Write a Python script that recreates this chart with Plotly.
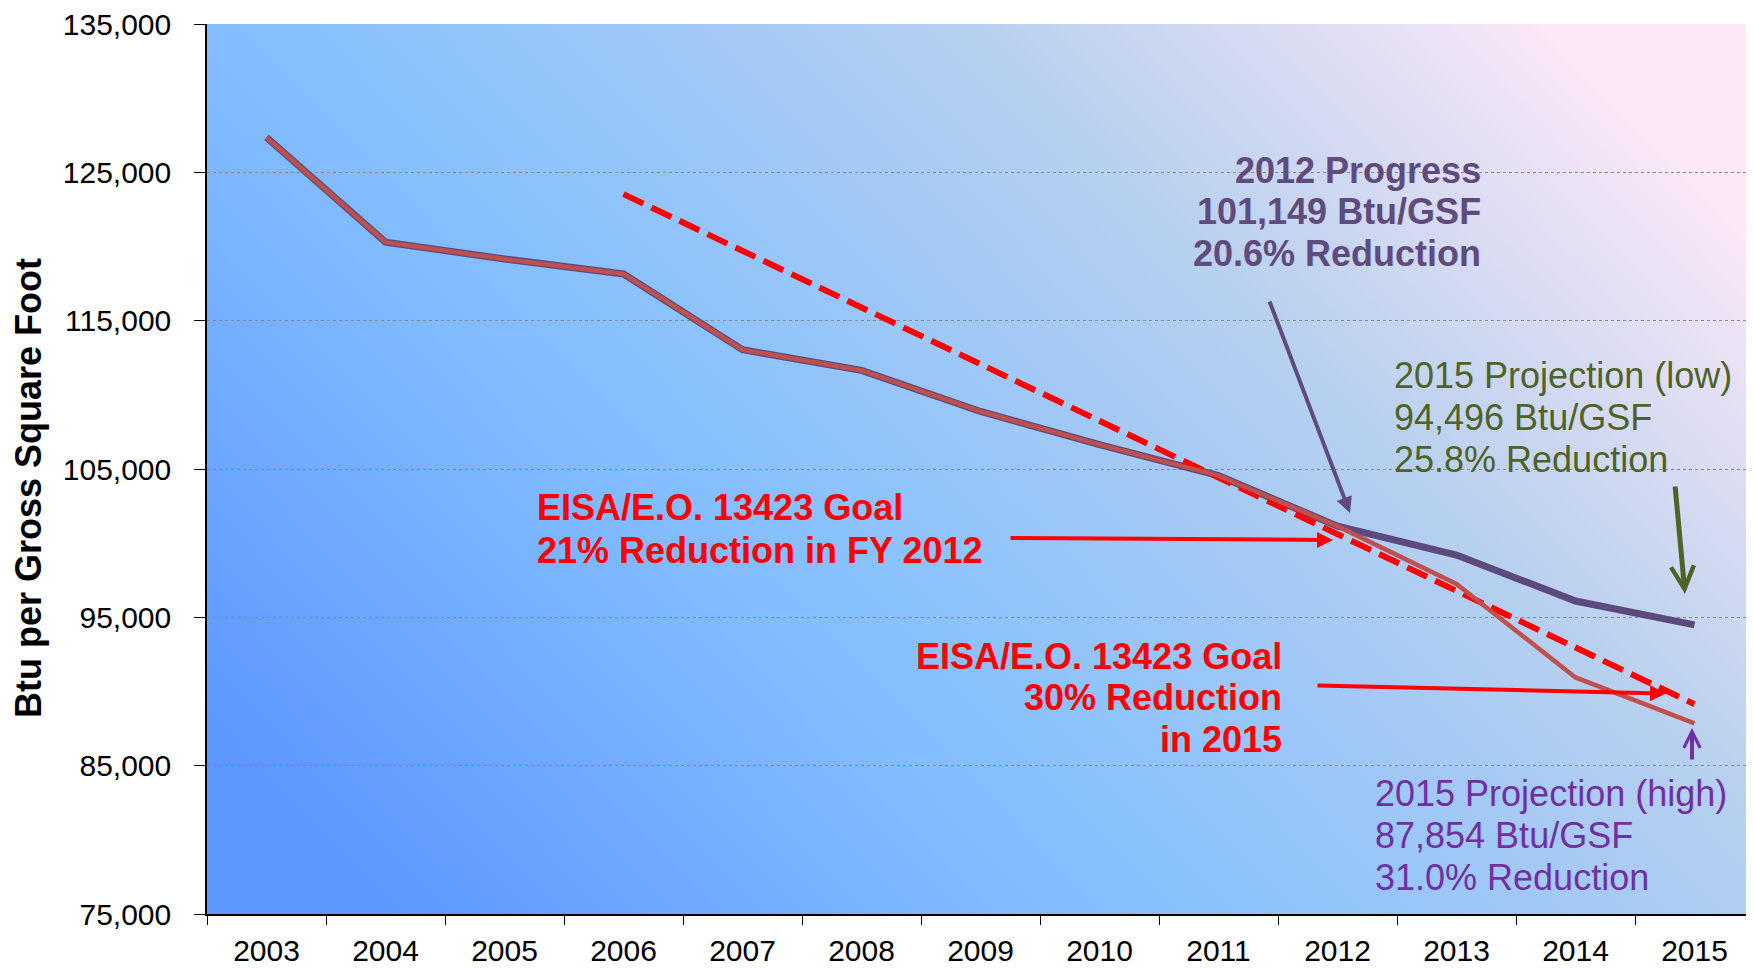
import base64
import plotly.graph_objects as go

# ---------------- data ----------------
years = ["2003", "2004", "2005", "2006", "2007", "2008", "2009",
         "2010", "2011", "2012", "2013", "2014", "2015"]
low_projection = [127350, 120290, 119160, 118150, 113040, 111650, 108880,
                  106640, 104550, 101149, 99200, 96100, 94496]
high_projection = [127350, 120290, 119160, 118150, 113040, 111650, 108880,
                   106640, 104550, 101149, 97250, 90950, 87854]
goal_years = ["2006", "2007", "2008", "2009", "2010", "2011", "2012",
              "2013", "2014", "2015"]
goal_values = [123530, 119710, 115890, 112070, 108250, 104430, 100610,
               96790, 92970, 89145]
y_ticks = [75000, 85000, 95000, 105000, 115000, 125000, 135000]

progress_lines = ["2012 Progress", "101,149 Btu/GSF", "20.6% Reduction"]
low_lines = ["2015 Projection (low)", "94,496 Btu/GSF", "25.8% Reduction"]
high_lines = ["2015 Projection (high)", "87,854 Btu/GSF", "31.0% Reduction"]
goal12_lines = ["EISA/E.O. 13423 Goal", "21% Reduction in FY 2012"]
goal15_lines = ["EISA/E.O. 13423 Goal", "30% Reduction", "in 2015"]

# ---------------- layout geometry (page pixels) ----------------
OFF = 8                      # default body margin of the html page
L, R, T, B = 207, 1754, 24, 914
W = R - OFF                  # figure width
H = 960                      # figure height
FONT = "Liberation Sans, Arial, sans-serif"


def px(x):
    return (x - L) / (R - L)


def py(y):
    return (B - y) / (B - T)


# background gradient (style only)
svg = (
    '<svg xmlns="http://www.w3.org/2000/svg" width="1547" height="890" '
    'viewBox="0 0 1547 890" preserveAspectRatio="none">'
    '<defs><linearGradient id="g" x1="0" y1="0.78" x2="1" y2="0.22">'
    '<stop offset="0" stop-color="#5c98ff"/>'
    '<stop offset="0.30" stop-color="#80bbff"/>'
    '<stop offset="0.42" stop-color="#8cc3fc"/>'
    '<stop offset="0.60" stop-color="#a6caf4"/>'
    '<stop offset="0.72" stop-color="#b9d1ef"/>'
    '<stop offset="0.86" stop-color="#dadcf2"/>'
    '<stop offset="1" stop-color="#fde8f8"/>'
    '</linearGradient></defs>'
    '<rect x="0" y="0" width="1547" height="890" fill="url(#g)"/></svg>'
)
bg_src = "data:image/svg+xml;base64," + base64.b64encode(svg.encode()).decode()

fig = go.Figure()

fig.add_trace(go.Scatter(
    x=years, y=low_projection, mode="lines",
    line=dict(color="#5c4a7e", width=7), showlegend=False, hoverinfo="skip"))
fig.add_trace(go.Scatter(
    x=goal_years, y=goal_values, mode="lines",
    line=dict(color="#ff0000", width=6, dash="22px,9px"),
    showlegend=False, hoverinfo="skip"))
fig.add_trace(go.Scatter(
    x=years, y=high_projection, mode="lines",
    line=dict(color="#c0504d", width=4.5), showlegend=False, hoverinfo="skip"))

annotations = []


def text_block(lines, x, ys, anchor, color, bold):
    for line, yy in zip(lines, ys):
        t = "<b>%s</b>" % line if bold else line
        annotations.append(dict(
            text=t, xref="paper", yref="paper", x=px(x), y=py(yy),
            xanchor=anchor, yanchor="middle", showarrow=False,
            font=dict(family=FONT, size=36, color=color)))


text_block(progress_lines, 1483, [170, 211.5, 254], "right", "#5f4b7d", True)
text_block(low_lines, 1392, [375.5, 417.5, 459.5], "left", "#4f6228", False)
text_block(high_lines, 1373, [793, 835, 877], "left", "#7030a0", False)
text_block(goal12_lines, 535, [507.5, 550.5], "left", "#ff0000", True)
text_block(goal15_lines, 1284, [656, 697.5, 739], "right", "#ff0000", True)


def arrow(tail, head, color, width, style, size):
    annotations.append(dict(
        text="", xref="paper", yref="paper", x=px(head[0]), y=py(head[1]),
        ax=tail[0] - head[0], ay=tail[1] - head[1], axref="pixel", ayref="pixel",
        showarrow=True, arrowhead=style, arrowsize=size, arrowwidth=width,
        arrowcolor=color, standoff=0, startstandoff=0))


arrow((1269, 300), (1350, 513), "#5f4b7d", 4, 2, 0.8)
arrow((1675, 485), (1685, 594), "#4f6228", 5, 5, 0.9)
arrow((1692, 761), (1692, 728), "#7030a0", 4, 5, 0.8)
arrow((1009, 538), (1333, 540), "#ff0000", 4, 2, 0.8)
arrow((1316, 685.5), (1666, 693.5), "#ff0000", 4, 2, 0.8)

# y axis title
annotations.append(dict(
    text="<b>Btu per Gross Square Foot</b>", xref="paper", yref="paper",
    x=px(28), y=py(488), xanchor="center", yanchor="middle", textangle=-90,
    showarrow=False, font=dict(family=FONT, size=36, color="black")))

fig.update_layout(
    width=W, height=H,
    margin=dict(l=L - OFF, r=0, t=T - OFF, b=H - (B - OFF), autoexpand=False),
    paper_bgcolor="white",
    plot_bgcolor="rgba(0,0,0,0)",
    font=dict(family=FONT, size=30, color="black"),
    annotations=annotations,
    images=[dict(source=bg_src, xref="paper", yref="paper", x=0, y=1,
                 sizex=1, sizey=1, xanchor="left", yanchor="top",
                 sizing="stretch", layer="below")],
    xaxis=dict(
        type="category", categoryorder="array", categoryarray=years,
        range=[-0.5, 12.5], tickson="boundaries", ticks="outside",
        ticklen=9, tickwidth=1.2, tickcolor="black",
        showline=True, linecolor="black", linewidth=1.5,
        showgrid=False, tickfont=dict(family=FONT, size=30, color="black"),
        ticklabelstandoff=9, ticklabeloverflow="allow", fixedrange=True),
    yaxis=dict(
        range=[75000, 135000], tickvals=y_ticks, tickformat=",d",
        ticks="outside", ticklen=11, tickwidth=1.2, tickcolor="black",
        showline=True, linecolor="black", linewidth=1.5,
        showgrid=True, gridcolor="#7f8a99", gridwidth=1, griddash="dot",
        zeroline=False, tickfont=dict(family=FONT, size=30, color="black"),
        ticklabelstandoff=17, ticklabeloverflow="allow", fixedrange=True),
)

fig.write_html("out.html")
